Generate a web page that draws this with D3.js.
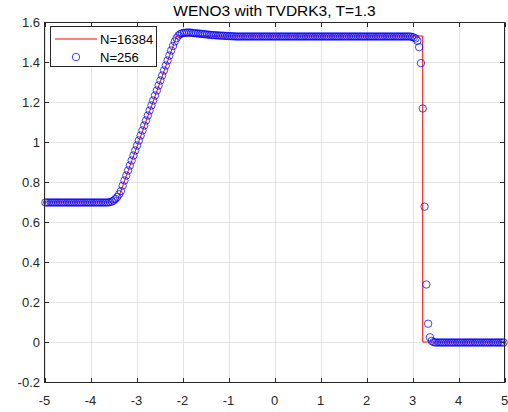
<!DOCTYPE html>
<html><head><meta charset="utf-8">
<script src="https://cdn.jsdelivr.net/npm/d3@7"></script>
<style>body{margin:0;background:#fff}</style>
</head><body><svg id="c" width="508" height="412"></svg>
<script>
const titleText = "WENO3 with TVDRK3, T=1.3";
const xTicks = [-5, -4, -3, -2, -1, 0, 1, 2, 3, 4, 5];
const yTicks = [-0.2, 0, 0.2, 0.4, 0.6, 0.8, 1, 1.2, 1.4, 1.6];
const seriesNames = ["N=16384", "N=256"];
// fine-grid reference solution (breakpoints of the profile)
const refX = [-5, -3.424, -2.126, 3.222, 3.222, 5];
const refY = [0.7, 0.7, 1.53, 1.53, 0, 0];
// coarse N=256 cell values
const coarseN = 256;
const coarseY = [
0.7,0.7,0.7,0.7,0.7,0.7,0.7,0.7,0.7,0.7,0.7,0.7,
0.7,0.7,0.7,0.7,0.7,0.7,0.7,0.7,0.7,0.7,0.7,0.7,
0.7,0.7,0.7,0.7,0.7,0.7,0.7,0.7,0.7,0.7,0.7,0.7,
0.702,0.705,0.71,0.718,0.728,0.741,0.757,0.784,
0.81,0.835,0.86,0.885,0.91,0.935,0.96,0.985,1.01,1.035,1.06,1.085,1.11,1.135,
1.16,1.185,1.21,1.235,1.26,1.285,1.31,1.335,1.36,1.385,1.41,1.435,1.46,
1.483,1.505,1.522,1.535,1.542,1.546,1.548,1.549,1.55,1.55,1.549,1.548,1.547,1.546,
1.545,1.544,1.543,1.542,1.541,1.54,1.539,1.538,1.537,1.537,1.536,1.535,1.535,1.534,
1.534,1.533,1.533,1.532,1.532,1.531,1.531,
1.53,1.53,1.53,1.53,1.53,1.53,1.53,1.53,1.53,1.53,1.53,1.53,1.53,1.53,
1.53,1.53,1.53,1.53,1.53,1.53,1.53,1.53,1.53,1.53,1.53,1.53,1.53,1.53,
1.53,1.53,1.53,1.53,1.53,1.53,1.53,1.53,1.53,1.53,1.53,1.53,1.53,1.53,
1.53,1.53,1.53,1.53,1.53,1.53,1.53,1.53,1.53,1.53,1.53,1.53,1.53,1.53,
1.53,1.53,1.53,1.53,1.53,1.53,1.53,1.53,1.53,1.53,1.53,1.53,1.53,1.53,
1.53,1.53,1.53,1.53,1.53,1.53,1.53,1.53,1.53,1.53,1.53,1.53,1.53,1.53,
1.53,1.53,1.53,1.53,1.53,1.53,1.53,1.53,1.53,1.53,1.53,1.53,1.53,1.53,
1.528,1.525,1.52,1.508,1.477,1.397,1.17,0.679,0.29,0.094,0.026,0.008,0.002,
0,0,0,0,0,0,0,0,0,0,0,0,0,
0,0,0,0,0,0,0,0,0,0,0,0,0,
0,0,0,0,0,0,0,0,0,0,0,0,0
];
const xDomain = [-5, 5];
const coarseX = coarseY.map((_, i) => xDomain[0] + (i + 0.5) * (xDomain[1] - xDomain[0]) / coarseN);

const svg = d3.select("#c");
const L = 44.5, R = 504.5, T = 22.5, B = 382.5;
const x = d3.scaleLinear().domain(xDomain).range([L, R]);
const y = d3.scaleLinear().domain([-0.2, 1.6]).range([B, T]);
const axisCol = "#262626", gridCol = "#e3e3e3";
const fmt = v => String(+v.toFixed(1));

svg.append("rect").attr("x", L).attr("y", T).attr("width", R - L).attr("height", B - T).attr("fill", "#fff");
// grid
const g = svg.append("g");
g.selectAll(".gx").data(xTicks).join("line")
  .attr("x1", d => Math.round(x(d)) + 0.5).attr("x2", d => Math.round(x(d)) + 0.5)
  .attr("y1", T).attr("y2", B).attr("stroke", gridCol).attr("stroke-width", 1);
g.selectAll(".gy").data(yTicks).join("line")
  .attr("y1", d => Math.round(y(d) - 0.5) + 0.5).attr("y2", d => Math.round(y(d) - 0.5) + 0.5)
  .attr("x1", L).attr("x2", R).attr("stroke", gridCol).attr("stroke-width", 1);

// reference line
const lineGen = d3.line().x(d => x(d[0])).y(d => y(d[1]) - 0.5);
svg.append("path").datum(refX.map((v, i) => [v, refY[i]]))
  .attr("d", lineGen).attr("fill", "none").attr("stroke", "#ff0000").attr("stroke-width", 1);

// coarse circles
svg.append("g").selectAll("circle").data(coarseY.map((v, i) => [coarseX[i], v])).join("circle")
  .attr("cx", d => x(d[0])).attr("cy", d => y(d[1])).attr("r", 3.7)
  .attr("fill", "none").attr("stroke", "#0000ff").attr("stroke-width", 0.75);

// axes box
svg.append("rect").attr("x", L).attr("y", T).attr("width", R - L).attr("height", B - T)
  .attr("fill", "none").attr("stroke", axisCol).attr("stroke-width", 1);
const tl = 4.5;
const tk = svg.append("g").attr("stroke", axisCol).attr("stroke-width", 1);
xTicks.forEach(v => {
  const px = Math.round(x(v)) + 0.5;
  tk.append("line").attr("x1", px).attr("x2", px).attr("y1", B).attr("y2", B - tl);
  tk.append("line").attr("x1", px).attr("x2", px).attr("y1", T).attr("y2", T + tl);
});
yTicks.forEach(v => {
  const py = Math.round(y(v) - 0.5) + 0.5;
  tk.append("line").attr("y1", py).attr("y2", py).attr("x1", L).attr("x2", L + tl);
  tk.append("line").attr("y1", py).attr("y2", py).attr("x1", R).attr("x2", R - tl);
});
const font = "Liberation Sans, Arial, Helvetica, sans-serif";
svg.append("g").selectAll("text").data(xTicks).join("text")
  .attr("x", d => x(d)).attr("y", 405).attr("text-anchor", "middle")
  .attr("font-family", font).attr("font-size", 13).attr("fill", axisCol).text(fmt);
svg.append("g").selectAll("text").data(yTicks).join("text")
  .attr("x", 40).attr("y", d => y(d) + 4.7).attr("text-anchor", "end")
  .attr("font-family", font).attr("font-size", 13).attr("fill", axisCol).text(fmt);

// title
svg.append("text").attr("x", (L + R) / 2).attr("y", 16).attr("text-anchor", "middle")
  .attr("font-family", font).attr("font-size", 15.5).attr("fill", "#000").text(titleText);

// legend
const lg = svg.append("g");
lg.append("rect").attr("x", 50.5).attr("y", 26.5).attr("width", 106).attr("height", 40)
  .attr("fill", "#fff").attr("stroke", axisCol).attr("stroke-width", 1);
lg.append("path").attr("d", "M55,39H97")
  .attr("fill", "none").attr("stroke", "#ff0000").attr("stroke-width", 1);
lg.append("circle").attr("cx", 76).attr("cy", 57).attr("r", 3.7)
  .attr("fill", "none").attr("stroke", "#0000ff").attr("stroke-width", 0.75);
lg.append("text").attr("x", 100).attr("y", 44).attr("font-family", font).attr("font-size", 13)
  .attr("fill", "#000").text(seriesNames[0]);
lg.append("text").attr("x", 100).attr("y", 61.5).attr("font-family", font).attr("font-size", 13)
  .attr("fill", "#000").text(seriesNames[1]);
</script></body></html>
